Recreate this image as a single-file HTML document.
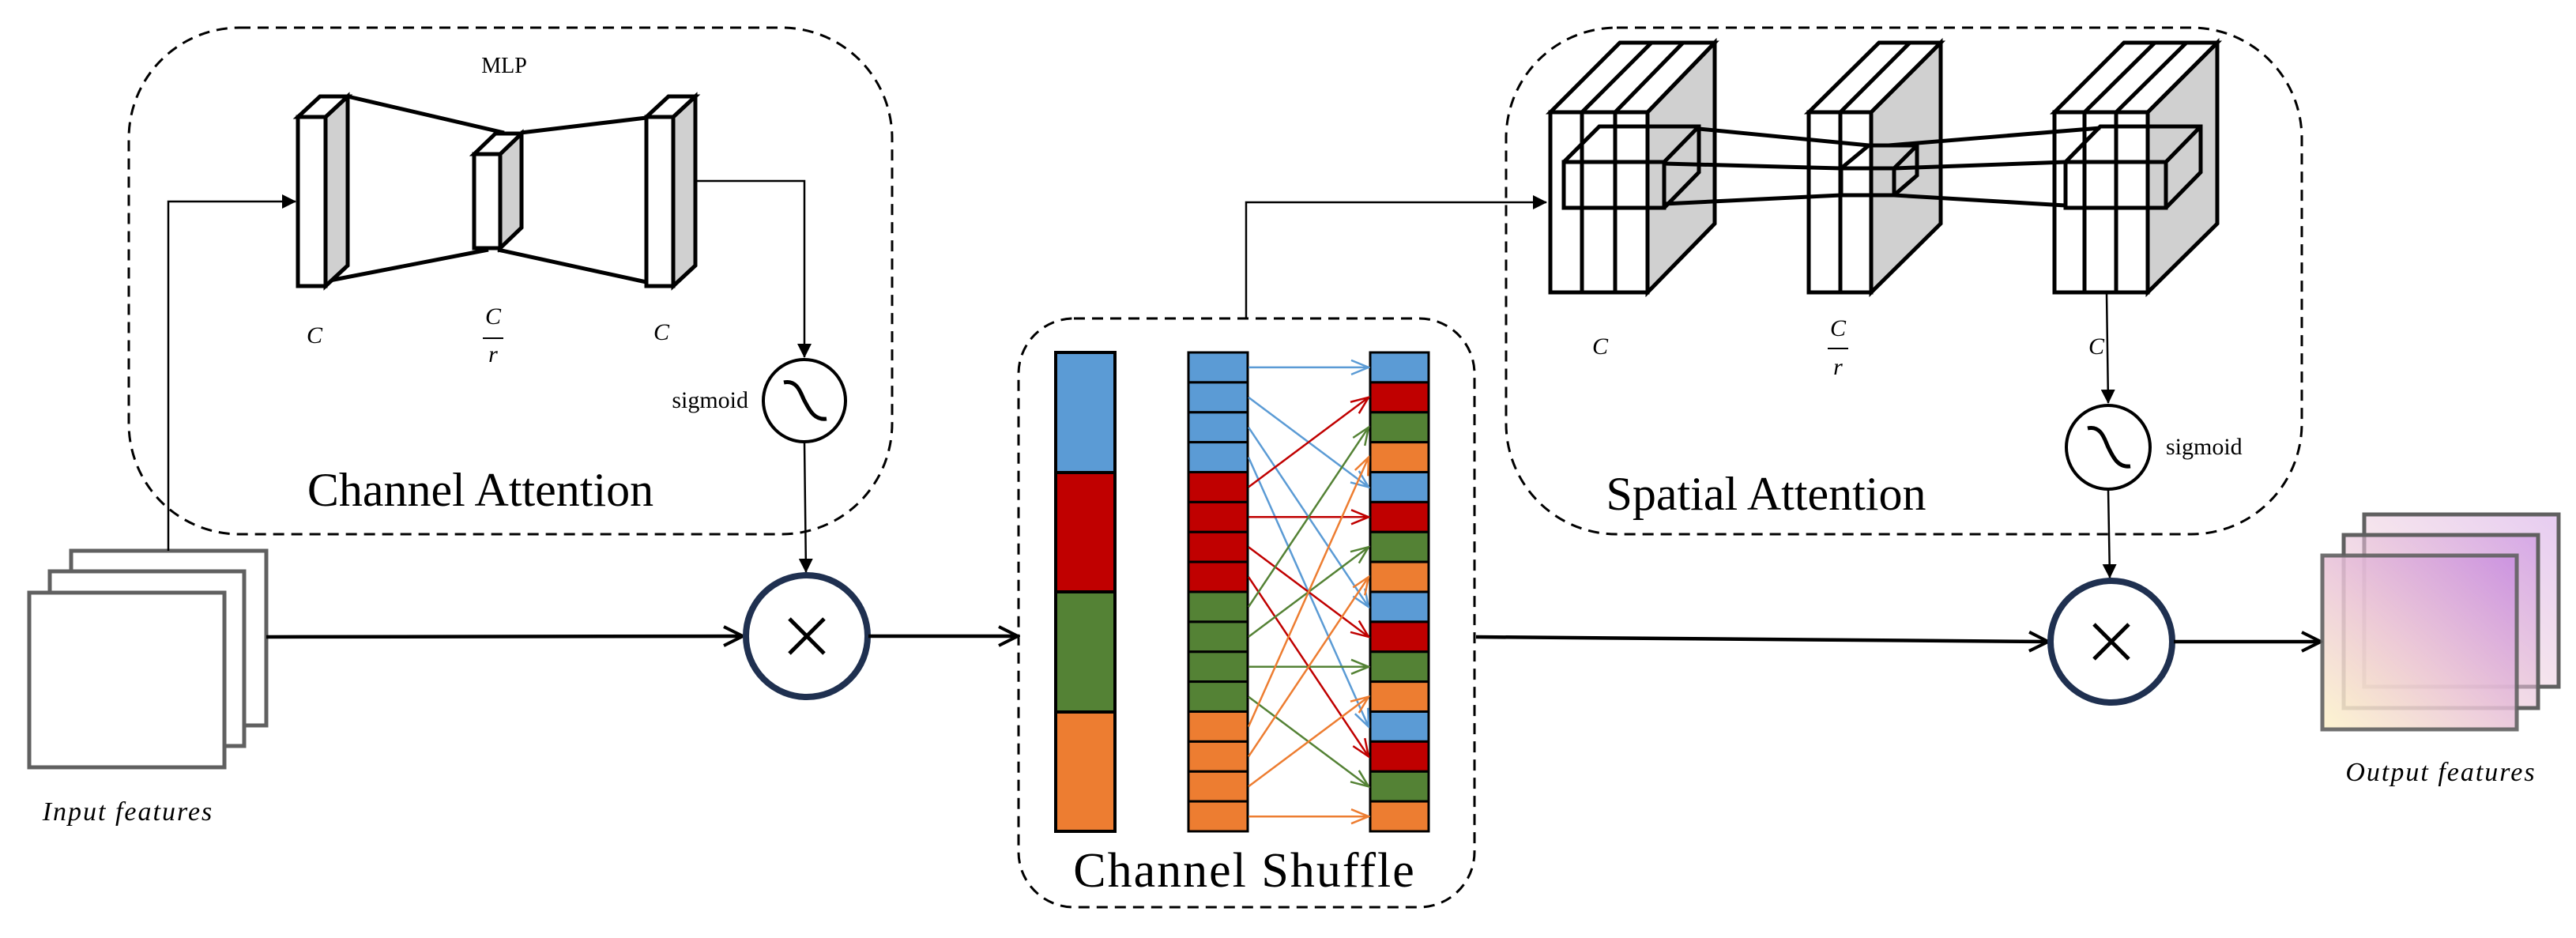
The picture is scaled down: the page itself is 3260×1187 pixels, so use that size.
<!DOCTYPE html>
<html><head><meta charset="utf-8"><style>
html,body{margin:0;padding:0;background:#fff;}
svg{display:block;}
text{font-family:"Liberation Serif",serif;}
</style></head><body>
<svg width="3260" height="1187" viewBox="0 0 3260 1187" xmlns="http://www.w3.org/2000/svg">
<defs>
<marker id="tri" markerWidth="12" markerHeight="12" refX="11" refY="6" orient="auto" markerUnits="userSpaceOnUse"><path d="M0,0 L12,6 L0,12 Z" fill="#000"/></marker>
<marker id="tri2" markerWidth="18" markerHeight="18" refX="17" refY="9" orient="auto" markerUnits="userSpaceOnUse"><path d="M0,0 L18,9 L0,18 Z" fill="#000"/></marker>
<marker id="open" markerWidth="30" markerHeight="30" refX="27" refY="15" orient="auto" markerUnits="userSpaceOnUse"><path d="M3,3 L27,15 L3,27" fill="none" stroke="#000" stroke-width="4"/></marker>
<marker id="ob" markerWidth="26" markerHeight="22" refX="24" refY="11" orient="auto" markerUnits="userSpaceOnUse"><path d="M2,2 L24,11 L2,20" fill="none" stroke="#5b9bd5" stroke-width="2.5"/></marker>
<marker id="or" markerWidth="26" markerHeight="22" refX="24" refY="11" orient="auto" markerUnits="userSpaceOnUse"><path d="M2,2 L24,11 L2,20" fill="none" stroke="#c00000" stroke-width="2.5"/></marker>
<marker id="og" markerWidth="26" markerHeight="22" refX="24" refY="11" orient="auto" markerUnits="userSpaceOnUse"><path d="M2,2 L24,11 L2,20" fill="none" stroke="#548235" stroke-width="2.5"/></marker>
<marker id="oo" markerWidth="26" markerHeight="22" refX="24" refY="11" orient="auto" markerUnits="userSpaceOnUse"><path d="M2,2 L24,11 L2,20" fill="none" stroke="#ed7d31" stroke-width="2.5"/></marker>
<linearGradient id="pg" x1="0" y1="1" x2="1" y2="0">
<stop offset="0" stop-color="#fdf3c8"/><stop offset="0.45" stop-color="#ebc6d6"/><stop offset="1" stop-color="#c98ee0"/>
</linearGradient>
</defs>

<!-- dashed boxes -->
<rect x="163" y="35" width="966" height="641" rx="140" ry="140" fill="none" stroke="#000" stroke-width="3" stroke-dasharray="14,9"/>
<rect x="1906" y="35" width="1007" height="641" rx="140" ry="140" fill="none" stroke="#000" stroke-width="3" stroke-dasharray="14,9"/>
<rect x="1289" y="403" width="577" height="745" rx="70" ry="70" fill="none" stroke="#000" stroke-width="3" stroke-dasharray="14,9"/>

<!-- MLP -->
<text x="638" y="92" font-size="28" text-anchor="middle">MLP</text>
<g stroke="#000" stroke-width="5" stroke-linejoin="miter">
<line x1="440" y1="122" x2="638" y2="168"/>
<line x1="412" y1="356" x2="618" y2="316"/>
<line x1="659" y1="168" x2="818" y2="149"/>
<line x1="630" y1="316" x2="818" y2="357"/>
<!-- left block -->
<polygon points="412,148 440,122 440,336 412,362" fill="#d0d0d0"/>
<polygon points="377,148 405,122 440,122 412,148" fill="#fff"/>
<rect x="377" y="148" width="35" height="214" fill="#fff"/>
<!-- middle -->
<polygon points="633,195 660,169 660,288 633,314" fill="#d0d0d0"/>
<polygon points="600,195 627,169 660,169 633,195" fill="#fff"/>
<rect x="600" y="195" width="33" height="119" fill="#fff"/>
<!-- right -->
<polygon points="852,148 880,122 880,336 852,362" fill="#d0d0d0"/>
<polygon points="818,148 846,122 880,122 852,148" fill="#fff"/>
<rect x="818" y="148" width="34" height="214" fill="#fff"/>
</g>
<g font-style="italic" font-size="30" text-anchor="middle">
<text x="398" y="434">C</text>
<text x="624" y="410">C</text>
<line x1="611" y1="428" x2="637" y2="428" stroke="#000" stroke-width="2"/>
<text x="624" y="458">r</text>
<text x="837" y="430">C</text>
</g>

<!-- CA sigmoid path -->
<polyline points="880,229 1018,229 1018,452" fill="none" stroke="#000" stroke-width="2.5" marker-end="url(#tri2)"/>
<circle cx="1018" cy="507" r="52" fill="#fff" stroke="#000" stroke-width="4"/>
<path d="M992,484 C1010,480 1014,500 1018,507 C1024,518 1030,532 1046,530" fill="none" stroke="#000" stroke-width="5"/>
<text x="947" y="516" font-size="30" text-anchor="end">sigmoid</text>
<text x="608" y="640" font-size="60" text-anchor="middle">Channel Attention</text>
<line x1="1018" y1="559" x2="1020" y2="724" stroke="#000" stroke-width="2.5" marker-end="url(#tri2)"/>

<!-- input features -->
<g fill="#fff" stroke="#606060" stroke-width="5">
<rect x="90" y="697" width="247" height="221"/>
<rect x="63" y="723" width="246" height="221"/>
<rect x="37" y="750" width="247" height="221"/>
</g>
<text x="162" y="1038" font-size="34" font-style="italic" text-anchor="middle" letter-spacing="2">Input features</text>
<polyline points="213,697 213,255 374,255" fill="none" stroke="#000" stroke-width="2.5" marker-end="url(#tri2)"/>
<line x1="337" y1="806" x2="940" y2="805" stroke="#000" stroke-width="4.5" marker-end="url(#open)"/>

<!-- multiply 1 -->
<circle cx="1021" cy="805" r="77" fill="#fff" stroke="#1f3050" stroke-width="8"/>
<g stroke="#000" stroke-width="5"><line x1="999" y1="783" x2="1043" y2="827"/><line x1="1043" y1="783" x2="999" y2="827"/></g>
<line x1="1099" y1="805" x2="1288" y2="805" stroke="#000" stroke-width="4.5" marker-end="url(#open)"/>

<!-- channel shuffle -->
<g stroke="#000" stroke-width="4">
<rect x="1336" y="446" width="75" height="152" fill="#5b9bd5"/>
<rect x="1336" y="598" width="75" height="151" fill="#c00000"/>
<rect x="1336" y="749" width="75" height="152" fill="#548235"/>
<rect x="1336" y="901" width="75" height="151" fill="#ed7d31"/>
</g>
<g stroke="#000" stroke-width="3">
<rect x="1504" y="446" width="75" height="37.875" fill="#5b9bd5"/>
<rect x="1504" y="483.9" width="75" height="37.875" fill="#5b9bd5"/>
<rect x="1504" y="521.8" width="75" height="37.875" fill="#5b9bd5"/>
<rect x="1504" y="559.6" width="75" height="37.875" fill="#5b9bd5"/>
<rect x="1504" y="597.5" width="75" height="37.875" fill="#c00000"/>
<rect x="1504" y="635.4" width="75" height="37.875" fill="#c00000"/>
<rect x="1504" y="673.3" width="75" height="37.875" fill="#c00000"/>
<rect x="1504" y="711.1" width="75" height="37.875" fill="#c00000"/>
<rect x="1504" y="749" width="75" height="37.875" fill="#548235"/>
<rect x="1504" y="786.9" width="75" height="37.875" fill="#548235"/>
<rect x="1504" y="824.8" width="75" height="37.875" fill="#548235"/>
<rect x="1504" y="862.6" width="75" height="37.875" fill="#548235"/>
<rect x="1504" y="900.5" width="75" height="37.875" fill="#ed7d31"/>
<rect x="1504" y="938.4" width="75" height="37.875" fill="#ed7d31"/>
<rect x="1504" y="976.3" width="75" height="37.875" fill="#ed7d31"/>
<rect x="1504" y="1014.1" width="75" height="37.875" fill="#ed7d31"/>

<rect x="1734" y="446" width="74" height="37.875" fill="#5b9bd5"/>
<rect x="1734" y="483.9" width="74" height="37.875" fill="#c00000"/>
<rect x="1734" y="521.8" width="74" height="37.875" fill="#548235"/>
<rect x="1734" y="559.6" width="74" height="37.875" fill="#ed7d31"/>
<rect x="1734" y="597.5" width="74" height="37.875" fill="#5b9bd5"/>
<rect x="1734" y="635.4" width="74" height="37.875" fill="#c00000"/>
<rect x="1734" y="673.3" width="74" height="37.875" fill="#548235"/>
<rect x="1734" y="711.1" width="74" height="37.875" fill="#ed7d31"/>
<rect x="1734" y="749" width="74" height="37.875" fill="#5b9bd5"/>
<rect x="1734" y="786.9" width="74" height="37.875" fill="#c00000"/>
<rect x="1734" y="824.8" width="74" height="37.875" fill="#548235"/>
<rect x="1734" y="862.6" width="74" height="37.875" fill="#ed7d31"/>
<rect x="1734" y="900.5" width="74" height="37.875" fill="#5b9bd5"/>
<rect x="1734" y="938.4" width="74" height="37.875" fill="#c00000"/>
<rect x="1734" y="976.3" width="74" height="37.875" fill="#548235"/>
<rect x="1734" y="1014.1" width="74" height="37.875" fill="#ed7d31"/>
</g>
<g stroke-width="2.5" fill="none">
<line x1="1580" y1="464.9" x2="1732" y2="464.9" stroke="#5b9bd5" marker-end="url(#ob)"/>
<line x1="1580" y1="502.8" x2="1732" y2="616.4" stroke="#5b9bd5" marker-end="url(#ob)"/>
<line x1="1580" y1="540.7" x2="1732" y2="768" stroke="#5b9bd5" marker-end="url(#ob)"/>
<line x1="1580" y1="578.6" x2="1732" y2="919.6" stroke="#5b9bd5" marker-end="url(#ob)"/>
<line x1="1580" y1="616.4" x2="1732" y2="502.8" stroke="#c00000" marker-end="url(#or)"/>
<line x1="1580" y1="654.3" x2="1732" y2="654.3" stroke="#c00000" marker-end="url(#or)"/>
<line x1="1580" y1="692.2" x2="1732" y2="805.9" stroke="#c00000" marker-end="url(#or)"/>
<line x1="1580" y1="730.1" x2="1732" y2="957.4" stroke="#c00000" marker-end="url(#or)"/>
<line x1="1580" y1="768" x2="1732" y2="540.7" stroke="#548235" marker-end="url(#og)"/>
<line x1="1580" y1="805.9" x2="1732" y2="692.2" stroke="#548235" marker-end="url(#og)"/>
<line x1="1580" y1="843.8" x2="1732" y2="843.8" stroke="#548235" marker-end="url(#og)"/>
<line x1="1580" y1="881.7" x2="1732" y2="995.3" stroke="#548235" marker-end="url(#og)"/>
<line x1="1580" y1="919.6" x2="1732" y2="578.6" stroke="#ed7d31" marker-end="url(#oo)"/>
<line x1="1580" y1="957.4" x2="1732" y2="730.1" stroke="#ed7d31" marker-end="url(#oo)"/>
<line x1="1580" y1="995.3" x2="1732" y2="881.7" stroke="#ed7d31" marker-end="url(#oo)"/>
<line x1="1580" y1="1033.2" x2="1732" y2="1033.2" stroke="#ed7d31" marker-end="url(#oo)"/>
</g>
<text x="1575" y="1122" font-size="62" text-anchor="middle" letter-spacing="2">Channel Shuffle</text>

<!-- shuffle to spatial -->
<polyline points="1577,403 1577,256 1957,256" fill="none" stroke="#000" stroke-width="2.5" marker-end="url(#tri2)"/>

<!-- spatial cubes -->
<g stroke="#000" stroke-width="5" stroke-linejoin="miter">
<!-- cube1 -->
<polygon points="2085,142 2170,54 2170,283 2085,370" fill="#d0d0d0"/>
<polygon points="1962,142 2050,54 2170,54 2085,142" fill="#fff"/>
<line x1="2002" y1="142" x2="2090" y2="54"/><line x1="2044" y1="142" x2="2130" y2="54"/>
<rect x="1962" y="142" width="123" height="228" fill="#fff"/>
<line x1="2002" y1="142" x2="2002" y2="370"/><line x1="2044" y1="142" x2="2044" y2="370"/>
<!-- cube2 -->
<polygon points="2368,142 2456,54 2456,283 2368,370" fill="#d0d0d0"/>
<polygon points="2289,142 2378,54 2456,54 2368,142" fill="#fff"/>
<line x1="2329" y1="142" x2="2417" y2="54"/>
<rect x="2289" y="142" width="79" height="228" fill="#fff"/>
<line x1="2329" y1="142" x2="2329" y2="370"/>
<!-- cube3 -->
<polygon points="2718,142 2806,54 2806,283 2718,370" fill="#d0d0d0"/>
<polygon points="2600,142 2688,54 2806,54 2718,142" fill="#fff"/>
<line x1="2638" y1="142" x2="2727" y2="54"/><line x1="2678" y1="142" x2="2767" y2="54"/>
<rect x="2600" y="142" width="118" height="228" fill="#fff"/>
<line x1="2638" y1="142" x2="2638" y2="370"/><line x1="2678" y1="142" x2="2678" y2="370"/>
</g>
<g stroke="#000" stroke-width="5" fill="none" stroke-linejoin="miter">
<!-- box1 -->
<rect x="1979" y="205" width="127" height="58"/>
<polyline points="1979,205 2024,160 2150,160 2150,218 2106,263"/>
<line x1="2106" y1="205" x2="2150" y2="160"/>
<!-- box2 -->
<rect x="2330" y="213" width="67" height="34"/>
<polyline points="2330,213 2365,184 2426,184 2426,222 2397,247"/>
<line x1="2397" y1="213" x2="2426" y2="184"/>
<!-- box3 -->
<rect x="2614" y="205" width="127" height="58"/>
<polyline points="2614,205 2658,160 2785,160 2785,218 2741,263"/>
<line x1="2741" y1="205" x2="2785" y2="160"/>
<!-- connecting -->
<line x1="2150" y1="163" x2="2365" y2="184"/>
<line x1="2390" y1="184" x2="2658" y2="162"/>
<line x1="2106" y1="207" x2="2330" y2="213"/>
<line x1="2397" y1="213" x2="2614" y2="205"/>
<line x1="2106" y1="258" x2="2330" y2="247"/>
<line x1="2397" y1="247" x2="2614" y2="260"/>
</g>
<g font-style="italic" font-size="30" text-anchor="middle">
<text x="2025" y="448">C</text>
<text x="2326" y="425">C</text>
<line x1="2313" y1="441" x2="2339" y2="441" stroke="#000" stroke-width="2"/>
<text x="2326" y="474">r</text>
<text x="2653" y="448">C</text>
</g>
<line x1="2666" y1="371" x2="2668" y2="510" stroke="#000" stroke-width="2.5" marker-end="url(#tri2)"/>
<circle cx="2668" cy="566" r="53" fill="#fff" stroke="#000" stroke-width="4"/>
<path d="M2642,542 C2660,538 2664,558 2668,566 C2674,578 2680,592 2696,590" fill="none" stroke="#000" stroke-width="5"/>
<text x="2741" y="575" font-size="30">sigmoid</text>
<text x="2235" y="645" font-size="60" text-anchor="middle">Spatial Attention</text>
<line x1="2668" y1="620" x2="2670" y2="731" stroke="#000" stroke-width="2.5" marker-end="url(#tri2)"/>

<!-- main line to multiply 2 -->
<line x1="1868" y1="806" x2="2592" y2="812" stroke="#000" stroke-width="4.5" marker-end="url(#open)"/>
<circle cx="2672" cy="812" r="77" fill="#fff" stroke="#1f3050" stroke-width="8"/>
<g stroke="#000" stroke-width="5"><line x1="2650" y1="790" x2="2694" y2="834"/><line x1="2694" y1="790" x2="2650" y2="834"/></g>
<line x1="2751" y1="812" x2="2937" y2="812" stroke="#000" stroke-width="4.5" marker-end="url(#open)"/>

<!-- output features -->
<g stroke="#606060" stroke-width="5">
<rect x="2992" y="651" width="246" height="218" fill="url(#pg)" fill-opacity="0.45"/>
<rect x="2966" y="677" width="246" height="219" fill="url(#pg)" fill-opacity="0.6"/>
<rect x="2939" y="703" width="246" height="220" fill="url(#pg)" fill-opacity="0.85" stroke-opacity="0.9"/>
</g>
<text x="3089" y="988" font-size="34" font-style="italic" text-anchor="middle" letter-spacing="2">Output features</text>
</svg>
</body></html>
